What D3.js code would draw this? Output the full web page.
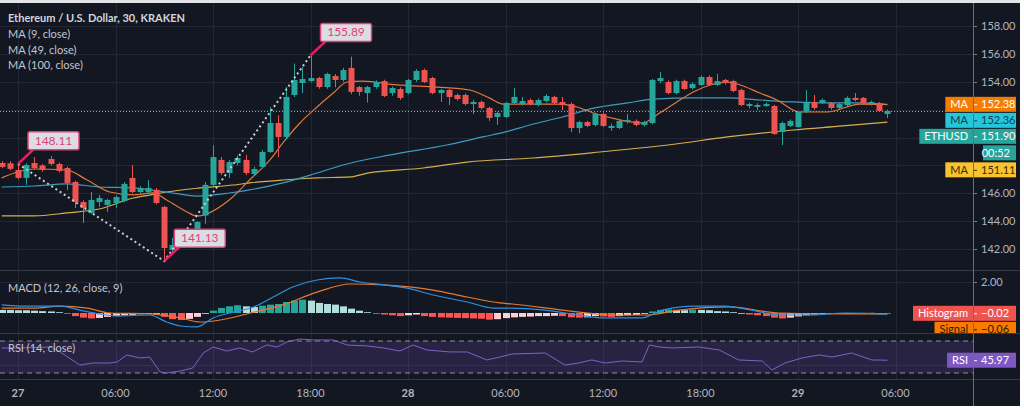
<!DOCTYPE html>
<html><head><meta charset="utf-8">
<script src="https://cdn.jsdelivr.net/npm/d3@7"></script>
<style>html,body{margin:0;padding:0;background:#fff;overflow:hidden}svg{display:block;font-family:Lato,"Open Sans",sans-serif}</style>
</head><body><svg id="c" width="1024" height="412"></svg>
<script>
// ---------- DATA ----------
const startTime = new Date(2019, 10, 26, 23, 0); // first 30-min bar
const opens  = [148.17,148.15,147.67,147.10,148.17,148.00,148.46,148.10,147.81,146.81,145.37,144.59,145.37,145.16,145.30,145.45,147.10,146.09,146.09,146.24,145.02,141.93,142.29,142.90,143.37,144.40,146.60,148.39,147.45,148.17,148.39,147.38,147.89,148.96,151.04,150.04,153.05,153.91,154.05,154.27,153.62,154.41,154.13,154.99,153.62,153.19,153.62,154.05,153.19,153.48,153.19,154.13,154.84,154.27,153.19,153.41,153.05,153.05,152.40,152.55,152.12,151.47,151.47,152.48,152.40,152.69,152.33,152.62,152.91,152.55,152.40,150.68,151.11,150.90,151.69,150.68,150.68,151.11,151.19,150.90,151.04,154.05,153.98,153.19,154.05,153.55,153.77,154.34,153.77,154.13,154.05,153.41,152.26,152.19,152.26,152.26,150.40,150.83,150.75,151.83,152.55,152.48,152.48,152.12,152.33,152.84,152.84,152.40,152.48,151.69];
const highs  = [148.30,148.30,148.11,148.15,148.60,148.10,148.67,148.20,147.90,146.90,145.50,146.09,145.88,145.60,145.85,146.80,148.03,146.50,146.95,146.38,145.10,142.79,143.15,143.40,144.00,146.80,149.45,148.60,148.40,148.70,148.75,147.90,149.10,152.19,151.60,153.62,155.30,155.06,155.89,154.35,154.65,154.55,155.00,155.80,153.70,153.70,154.10,154.15,153.65,153.60,154.20,154.90,154.95,154.35,153.50,153.50,153.15,153.15,152.70,152.65,152.20,151.85,152.55,153.55,152.91,152.80,152.80,153.10,153.00,152.91,152.50,151.20,151.20,151.80,151.80,151.00,151.30,151.69,151.30,151.20,154.20,154.70,154.10,154.15,154.15,153.95,154.45,154.45,154.56,154.20,154.15,153.50,152.50,152.45,152.50,152.35,151.15,151.30,151.90,153.40,153.05,152.80,152.55,152.50,152.95,153.19,152.90,152.65,152.55,152.00];
const lows   = [147.80,147.65,147.00,146.60,147.70,147.55,148.00,147.50,146.24,144.94,143.87,144.50,145.02,144.66,144.94,145.35,146.00,146.00,146.00,145.20,141.13,141.60,142.20,142.70,143.20,143.80,146.50,147.30,147.10,148.00,147.30,147.30,147.80,148.90,148.60,149.90,152.90,153.19,153.95,153.50,153.50,153.60,154.00,153.10,153.00,152.50,153.50,152.90,153.00,152.70,153.10,154.00,153.90,153.10,152.55,152.33,152.65,152.30,151.69,152.00,151.19,150.90,151.40,152.40,152.30,152.30,152.25,152.50,152.40,151.97,150.40,150.32,150.75,150.80,150.75,150.47,150.60,151.00,150.80,150.80,150.95,153.90,153.10,153.10,153.40,153.45,153.70,153.70,153.70,153.80,153.25,152.25,152.10,151.97,152.20,150.20,149.46,150.75,150.70,151.75,152.00,152.40,152.00,152.05,152.25,152.60,152.40,152.30,151.83,151.40];
const closes = [147.89,147.75,147.10,148.03,147.81,147.67,148.10,147.60,146.74,145.37,144.94,145.52,145.66,145.52,145.73,146.67,146.09,146.38,146.38,145.30,142.07,142.29,142.79,143.20,143.94,146.60,148.60,147.45,148.24,148.53,147.45,147.74,148.96,151.04,150.04,152.91,154.13,154.20,154.27,153.62,154.56,154.13,154.84,153.27,153.27,153.62,153.98,152.98,153.55,152.84,154.13,154.77,153.98,153.19,153.41,152.91,152.76,152.40,152.55,152.12,151.40,151.76,152.48,152.91,152.62,152.40,152.69,152.98,152.48,152.33,150.68,151.11,150.83,151.69,150.83,150.83,151.19,151.26,150.90,151.11,154.13,154.27,153.19,154.05,153.48,153.84,154.34,153.77,154.05,153.91,153.34,152.33,152.40,152.33,152.40,150.25,151.04,151.19,151.83,152.48,152.12,152.69,152.12,152.40,152.84,152.69,152.48,152.55,151.90,151.90];

// moving averages: [bar index, value]
const ma9   = [[0,147.10],[4,147.74],[8,147.67],[10.5,146.95],[13.3,146.09],[16.2,145.88],[18.6,146.02],[20.3,145.52],[22.8,144.66],[24,144.37],[28,145.52],[30.5,146.95],[33,148.39],[34.6,149.61],[36.7,151.04],[38.8,152.19],[40.8,153.19],[42.5,153.98],[44.5,154.05],[48.6,153.77],[53.6,153.62],[57.6,153.41],[60,152.84],[61.7,152.40],[65,152.40],[68.7,152.40],[70.8,152.19],[72.8,151.76],[76.1,151.26],[78.9,151.04],[80.6,151.62],[83.1,152.55],[85.1,153.27],[87.2,153.77],[89.3,153.98],[90.9,153.77],[93.3,153.19],[95.4,152.69],[98.2,151.83],[101.6,151.83],[105.6,152.40],[109,152.38]];
const ma49  = [[0,146.45],[4,146.52],[8,146.67],[12,146.45],[16,146.38],[20.3,146.09],[24,145.80],[28,146.02],[30.5,146.24],[34.6,146.74],[38.8,147.45],[42,148.03],[47.8,148.75],[54.8,149.46],[59.2,150.04],[62,150.40],[65,150.90],[69,151.47],[73,152.12],[77,152.48],[80.2,152.76],[85.1,152.84],[89.3,152.84],[93.3,152.69],[97.4,152.55],[101.6,152.48],[105.6,152.48],[109,152.36]];
const ma100 = [[0,144.37],[4,144.37],[8,144.59],[12,144.87],[16.2,145.66],[18.3,145.88],[20.3,146.09],[24.4,146.38],[28.5,146.59],[30.5,146.74],[34.6,146.95],[38.8,147.10],[42.9,147.17],[45,147.45],[51.9,147.81],[57.3,148.24],[65.4,148.53],[73.6,148.96],[79.8,149.32],[82,149.46],[89.3,150.04],[97.4,150.54],[103.5,150.83],[109,151.11]];

// MACD pane
const macdLine   = [[0,0.52],[2.2,0.45],[7.2,0.45],[9.6,0.19],[12.1,-0.06],[14.2,-0.19],[18.2,-0.13],[20.3,-0.58],[22,-0.84],[24,-0.90],[26,-0.32],[28.5,0.06],[31,0.39],[33.4,1.03],[35.8,1.68],[38.8,2.13],[41.6,2.26],[44.1,2.0],[47,1.81],[49.9,1.61],[53.1,1.16],[57.3,0.71],[60.5,0.32],[62.8,0.32],[66.9,0.19],[71,-0.13],[74.3,-0.32],[78.8,-0.32],[81.3,0.19],[85.3,0.45],[89,0.45],[92.3,0.19],[95.7,-0.13],[99.7,-0.13],[103.8,0.0],[109,-0.08]];
const signalLine = [[0,0.32],[4,0.32],[7.2,0.45],[10.5,0.32],[13.3,0.0],[18.2,-0.06],[22,-0.32],[24.4,-0.58],[26.9,-0.45],[30.6,0.0],[34.6,0.52],[38.8,1.35],[42.9,1.87],[47,1.81],[53.1,1.48],[57.3,1.03],[61.3,0.65],[62.8,0.58],[69,0.19],[75.1,-0.13],[79.2,-0.13],[83.4,0.19],[89.5,0.39],[95.7,0.0],[103.8,-0.06],[109,-0.06]];
const histogram  = [0.20,0.20,0.18,0.18,0.15,0.12,0.10,0.05,-0.05,
  -0.20,-0.30,-0.35,-0.32,-0.25,-0.20,-0.15,-0.12,-0.08,-0.05,-0.03,
  -0.25,-0.40,-0.45,-0.38,-0.25,-0.05,
  0.15,0.33,0.43,0.50,0.43,0.38,0.47,0.54,0.58,0.71,0.80,0.86,0.80,0.65,0.58,0.54,0.43,0.28,0.15,0.05,-0.02,
  -0.10,-0.15,-0.20,-0.15,-0.10,-0.20,-0.25,-0.28,-0.30,-0.32,-0.33,-0.35,-0.37,-0.43,-0.40,-0.33,
  -0.28,-0.25,-0.23,-0.20,-0.20,-0.18,-0.20,-0.28,-0.30,-0.28,-0.20,-0.22,-0.25,-0.20,-0.15,-0.12,-0.05,
  0.10,0.20,0.22,0.20,0.18,0.22,0.20,0.18,0.12,0.10,0.05,0.00,
  -0.10,-0.15,-0.20,-0.30,-0.35,-0.30,-0.22,-0.15,-0.10,-0.07,-0.05,-0.04,-0.02,-0.01,0.01,0.02,0.00,-0.02];

// RSI pane
const rsi = [[0,61.3],[2.2,61.3],[6,62.5],[7.2,56.3],[9.6,40],[11.2,42.5],[13.3,42.5],[14.2,43.8],[15.4,52.5],[17,48.8],[18.2,50],[19.5,31.3],[20.3,30],[22,32.5],[23.5,36.3],[24.8,55],[26,62.5],[27.7,57.5],[29.3,61.3],[30.9,56.3],[32.6,65],[33.9,62.5],[35.1,68.8],[36.7,72.5],[38.3,71.3],[40.8,71.3],[42.5,65],[45,63.8],[47,61.3],[49,57.5],[50.6,65],[52.3,58.8],[55.2,56.3],[57.3,56.3],[59.7,46.3],[61.3,50],[62.8,53.8],[66.9,55],[69.3,40],[71,42.5],[72.6,46.3],[74.3,42.5],[76.3,45],[78.8,43.8],[79.7,65],[80.9,62.5],[82.5,61.3],[85.8,62.5],[88.3,58.8],[90.7,46.3],[93.6,45],[94.8,33.8],[96.4,42.5],[98.5,48.8],[100.6,52.5],[102.2,50],[104.6,55],[107.1,46.3],[109,45.97]];

// axes / labels
const priceTicks = [142,144,146,148,150,152,154,156,158];
const macdTicks = [2];
const callouts = [{bar:2, price:148.11}, {bar:20, price:141.13}, {bar:38, price:155.89}];
const lastValues = {ma9:152.38, ma49:152.36, price:151.90, ma100:151.11, hist:-0.02, signal:-0.06, rsi:45.97};
const countdown = "00:52";

// ---------- DRAW ----------
const svg = d3.select("#c");
const FR = 1020, FT = 3, FB = 406;
const AX = 973;
const mainBot = 270, macdBot = 333, rsiBot = 379;
const bg = "#131722", grid = "#232733", txt = "#b2b5be";
const up = "#26a69a", dn = "#ef5350";

const dates = opens.map((_, i) => d3.timeMinute.offset(startTime, 30 * i));
const x = d3.scaleTime().domain([startTime, d3.timeMinute.offset(startTime, 30 * 120)]).range([1.75, 1.75 + 8.125 * 120]);
const xb = b => x(d3.timeMinute.offset(startTime, 30 * b));
const y = d3.scaleLinear().domain([142, 158]).range([249, 26]);
const yM = d3.scaleLinear().domain([0, 2]).range([313, 282]);
const yR = d3.scaleLinear().domain([30, 70]).range([373, 341]);

svg.append("rect").attr("x", 0).attr("y", 0).attr("width", FR).attr("height", FT).attr("fill", "#e3e4e8");
svg.append("rect").attr("x", 0).attr("y", FT).attr("width", FR).attr("height", FB - FT).attr("fill", bg);

const defs = svg.append("defs");
[["cMain", FT, mainBot], ["cMacd", mainBot, macdBot], ["cRsi", macdBot, rsiBot]].forEach(([id, a, b]) => {
  defs.append("clipPath").attr("id", id).append("rect").attr("x", 0).attr("y", a).attr("width", AX).attr("height", b - a);
});
defs.append("clipPath").attr("id", "cMacdAll").append("rect").attr("x", 0).attr("y", mainBot + 1).attr("width", FR).attr("height", macdBot - mainBot - 1);

// vertical grid + time labels
const timeTicks = x.ticks(d3.timeHour.every(6)).filter(t => x(t) < AX - 40);
svg.append("g").selectAll("line").data(timeTicks).join("line")
  .attr("x1", d => Math.round(x(d)) + 0.5).attr("x2", d => Math.round(x(d)) + 0.5)
  .attr("y1", FT).attr("y2", rsiBot).attr("stroke", grid);
svg.append("g").selectAll("text").data(timeTicks).join("text")
  .attr("x", d => x(d)).attr("y", 397).attr("text-anchor", "middle")
  .attr("font-size", 11).attr("fill", txt)
  .attr("font-weight", d => d.getHours() === 0 ? "bold" : "normal")
  .text(d => d.getHours() === 0 ? d3.timeFormat("%-d")(d) : d3.timeFormat("%H:%M")(d));

// horizontal grids
svg.append("g").selectAll("line").data(priceTicks).join("line")
  .attr("x1", 0).attr("x2", AX).attr("y1", d => Math.round(y(d)) + 0.5).attr("y2", d => Math.round(y(d)) + 0.5).attr("stroke", grid);
svg.append("g").selectAll("line").data(macdTicks).join("line")
  .attr("x1", 0).attr("x2", AX).attr("y1", d => Math.round(yM(d)) + 0.5).attr("y2", d => Math.round(yM(d)) + 0.5).attr("stroke", grid);
svg.append("line").attr("x1", 0).attr("x2", AX).attr("y1", Math.round(yR(40)) + 0.5).attr("y2", Math.round(yR(40)) + 0.5).attr("stroke", grid);

// RSI band
const gR = svg.append("g").attr("clip-path", "url(#cRsi)");
gR.append("rect").attr("x", 0).attr("width", AX).attr("y", yR(70)).attr("height", yR(30) - yR(70)).attr("fill", "#7e57c2").attr("fill-opacity", 0.2);
[70, 30].forEach(v => gR.append("line").attr("x1", 0).attr("x2", AX).attr("y1", yR(v)).attr("y2", yR(v))
  .attr("stroke", "#8d909a").attr("stroke-dasharray", "5,4").attr("stroke-width", 1));
gR.append("path").datum(rsi).attr("fill", "none").attr("stroke", "#8260c8").attr("stroke-width", 1)
  .attr("d", d3.line().x(d => xb(d[0])).y(d => yR(d[1])));

// main pane
const gM = svg.append("g").attr("clip-path", "url(#cMain)");
gM.append("line").attr("x1", 0).attr("x2", AX).attr("y1", Math.round(y(lastValues.price)) + 0.5).attr("y2", Math.round(y(lastValues.price)) + 0.5)
  .attr("stroke", "#9aa0ab").attr("stroke-dasharray", "1,2");
const mline = d3.line().x(d => xb(d[0])).y(d => y(d[1])).curve(d3.curveMonotoneX);
gM.append("path").datum(ma100).attr("fill", "none").attr("stroke", "#d6ae4e").attr("stroke-width", 1.2).attr("d", mline);
gM.append("path").datum(ma49).attr("fill", "none").attr("stroke", "#3d9cc2").attr("stroke-width", 1.2).attr("d", mline);
gM.append("path").datum(ma9).attr("fill", "none").attr("stroke", "#e0793a").attr("stroke-width", 1.2).attr("d", mline);

const candles = gM.append("g").selectAll("g").data(dates.map((d, i) => ({d, o: opens[i], h: highs[i], l: lows[i], c: closes[i]}))).join("g");
candles.append("line").attr("x1", d => Math.round(x(d.d)) + 0.5).attr("x2", d => Math.round(x(d.d)) + 0.5)
  .attr("y1", d => y(d.h)).attr("y2", d => y(d.l)).attr("stroke", d => d.c >= d.o ? up : dn);
candles.append("rect").attr("x", d => Math.round(x(d.d)) - 2.5).attr("width", 6)
  .attr("y", d => y(Math.max(d.o, d.c))).attr("height", d => Math.max(1, Math.abs(y(d.o) - y(d.c))))
  .attr("fill", d => d.c >= d.o ? up : dn);

// drawn pattern
const pts = callouts.map(c => [xb(c.bar), y(c.price)]);
gM.append("path").datum(pts).attr("fill", "none").attr("stroke", "#c9ccd4").attr("stroke-width", 2)
  .attr("stroke-dasharray", "2,3").attr("d", d3.line());
const co = svg.append("g").selectAll("g").data(callouts).join("g")
  .attr("transform", d => `translate(${xb(d.bar)},${y(d.price)})`);
co.append("line").attr("x1", 0).attr("y1", 0).attr("x2", 15).attr("y2", -14).attr("stroke", "#e91e63").attr("stroke-width", 2.5);
co.append("rect").attr("x", 10).attr("y", -32).attr("width", 51).attr("height", 18).attr("rx", 2)
  .attr("fill", "#dcdde2").attr("stroke", "#e0407a").attr("stroke-width", 1.5);
co.append("text").attr("x", 35.5).attr("y", -19).attr("text-anchor", "middle").attr("font-size", 12)
  .attr("fill", "#e0407a").text(d => d.price.toFixed(2));

// MACD pane
const gC = svg.append("g").attr("clip-path", "url(#cMacd)");
const histColor = (h, i) => {
  const p = i > 0 ? histogram[i - 1] : h;
  if (h >= 0) return h > p ? "#26a69a" : "#b2dfdb";
  return h < p ? "#ff5252" : "#ffcdd2";
};
gC.append("g").selectAll("rect").data(histogram).join("rect")
  .attr("x", (d, i) => Math.round(x(dates[i])) - 3).attr("width", 7)
  .attr("y", d => Math.min(yM(0), yM(d))).attr("height", d => Math.max(0.8, Math.abs(yM(d) - yM(0))))
  .attr("fill", histColor);
const cl = d3.line().x(d => xb(d[0])).y(d => yM(d[1])).curve(d3.curveMonotoneX);
gC.append("path").datum(signalLine).attr("fill", "none").attr("stroke", "#e47a32").attr("stroke-width", 1.2).attr("d", cl);
gC.append("path").datum(macdLine).attr("fill", "none").attr("stroke", "#2f8fe0").attr("stroke-width", 1.2).attr("d", cl);

// pane separators
[mainBot, macdBot, rsiBot].forEach(v => svg.append("line").attr("x1", 0).attr("x2", FR).attr("y1", v + 0.5).attr("y2", v + 0.5).attr("stroke", "#363a45"));

// legends
const leg = svg.append("g").attr("font-size", 11).attr("fill", "#c3c6ce");
leg.append("text").attr("x", 8).attr("y", 22).attr("font-weight", "bold").attr("fill", "#d1d4dc").text("Ethereum / U.S. Dollar, 30, KRAKEN");
["MA (9, close)", "MA (49, close)", "MA (100, close)"].forEach((t, i) => leg.append("text").attr("x", 8).attr("y", 38 + i * 15.5).text(t));
leg.append("text").attr("x", 8).attr("y", 292).text("MACD (12, 26, close, 9)");
leg.append("text").attr("x", 8).attr("y", 352).text("RSI (14, close)");

// badges
function stack(items) {
  let prev = -Infinity;
  items.forEach(it => { it.yc = Math.max(it.y0, prev + 1 + it.h / 2); prev = it.yc + it.hb; });
  return items;
}
const mainBadges = stack([
  {name: "MA", val: lastValues.ma9, y0: y(lastValues.ma9), fill: "#f57c00", tc: "#ffffff", h: 15, hb: 7.5},
  {name: "MA", val: lastValues.ma49, y0: y(lastValues.ma49), fill: "#26c6da", tc: "#123a52", h: 15, hb: 7.5},
  {name: "ETHUSD", val: lastValues.price, y0: y(lastValues.price), fill: "#26a69a", tc: "#ffffff", h: 15, hb: 25, cd: true},
  {name: "MA", val: lastValues.ma100, y0: y(lastValues.ma100), fill: "#f9c22f", tc: "#3a2c00", h: 15, hb: 7.5}
]);
const macdBadges = stack([
  {name: "Histogram", val: lastValues.hist, y0: yM(lastValues.hist), fill: "#ef5350", tc: "#ffffff", h: 15, hb: 7.5},
  {name: "Signal", val: lastValues.signal, y0: yM(lastValues.signal), fill: "#f57c00", tc: "#2b1800", h: 15, hb: 7.5}
]);
const rsiBadges = [{name: "RSI", val: lastValues.rsi, yc: yR(lastValues.rsi), fill: "#7e57c2", tc: "#ffffff", h: 15}];

const fmt = v => (v < 0 ? "\u2212" : "") + Math.abs(v).toFixed(2);
const occupied = [];
function drawBadge(g, b) {
  const gg = g.append("g");
  const t = gg.append("text").attr("font-size", 11).text(b.name);
  const w = t.node().getComputedTextLength() + 10;
  t.remove();
  gg.append("rect").attr("x", AX - w).attr("y", b.yc - 7.5).attr("width", w).attr("height", 15).attr("fill", b.fill);
  gg.append("rect").attr("x", AX).attr("y", b.yc - 7.5).attr("width", 43).attr("height", 15).attr("fill", b.fill);
  gg.append("text").attr("x", AX - 5).attr("y", b.yc + 4).attr("text-anchor", "end").attr("font-size", 11).attr("fill", b.tc).text(b.name);
  gg.append("line").attr("x1", AX).attr("x2", AX + 4).attr("y1", b.yc + 0.5).attr("y2", b.yc + 0.5).attr("stroke", b.tc);
  gg.append("text").attr("x", AX + 8).attr("y", b.yc + 4).attr("font-size", 11).attr("fill", b.tc).text(fmt(b.val));
  if (b.cd) {
    gg.append("rect").attr("x", 983).attr("y", b.yc + 9).attr("width", 33).attr("height", 15).attr("fill", b.fill);
    gg.append("text").attr("x", 1010).attr("y", b.yc + 20.5).attr("text-anchor", "end").attr("font-size", 11).attr("fill", b.tc).text(countdown);
  }
}

// price axis ticks and labels (skip ones hidden by badges)
const gAx = svg.append("g").attr("font-size", 11).attr("fill", txt);
mainBadges.forEach(b => occupied.push([b.yc - 9, b.yc + 9 + (b.cd ? 17 : 0)]));
priceTicks.filter(v => !occupied.some(([a, bb]) => y(v) > a && y(v) < bb)).forEach(v => {
  gAx.append("line").attr("x1", AX).attr("x2", AX + 4).attr("y1", Math.round(y(v)) + 0.5).attr("y2", Math.round(y(v)) + 0.5).attr("stroke", "#787b86");
  gAx.append("text").attr("x", AX + 8).attr("y", y(v) + 4).text(v.toFixed(2));
});
macdTicks.forEach(v => {
  gAx.append("line").attr("x1", AX).attr("x2", AX + 4).attr("y1", Math.round(yM(v)) + 0.5).attr("y2", Math.round(yM(v)) + 0.5).attr("stroke", "#787b86");
  gAx.append("text").attr("x", AX + 8).attr("y", yM(v) + 4).text(v.toFixed(2));
});

const gB = svg.append("g");
mainBadges.forEach(b => drawBadge(gB, b));
const gBM = svg.append("g").attr("clip-path", "url(#cMacdAll)");
macdBadges.forEach(b => drawBadge(gBM, b));
rsiBadges.forEach(b => drawBadge(gB, b));

// price axis separator line
svg.append("line").attr("x1", AX + 0.5).attr("x2", AX + 0.5).attr("y1", FT).attr("y2", FB).attr("stroke", "#6a6d78");
</script></body></html>
